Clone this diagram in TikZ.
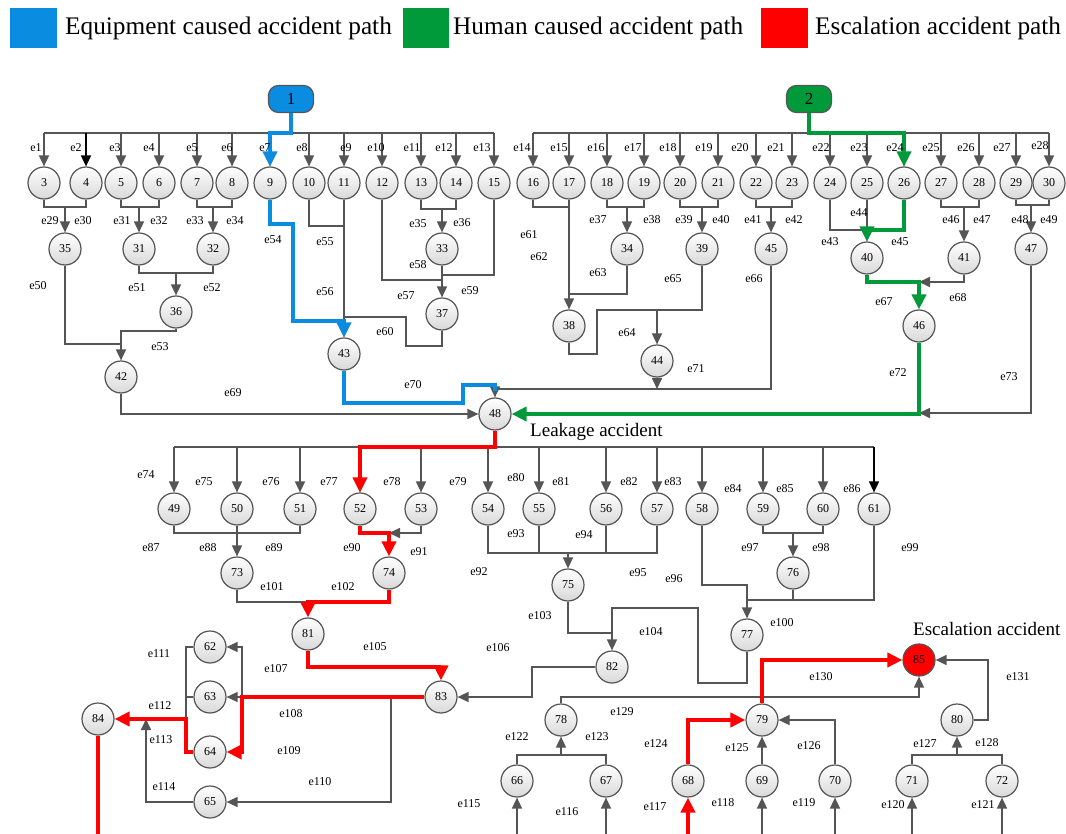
\documentclass[tikz,border=0pt]{standalone}
\usepackage{fontspec}
\setmainfont{Liberation Serif}
\usetikzlibrary{arrows.meta, calc}
\definecolor{lnk}{HTML}{555555}
\definecolor{pblue}{HTML}{0A8CE0}
\definecolor{pgreen}{HTML}{009A3A}
\definecolor{pred}{HTML}{FF0000}
% two events merging into one
\newcommand{\pairto}[4]{%
  \draw[ln] (#1.south) |- (#3.north |- 0,#4) -| (#2.south);
  \draw[ar] (#3.north |- 0,#4) -- (#3.north);}

\begin{document}
\begin{tikzpicture}[x=1pt, y=-1pt,
    ev/.style={circle, draw=lnk, line width=1.2pt, minimum size=32pt, inner sep=0pt,
      top color=white, bottom color=black!15, font=\fontsize{12}{12}\selectfont},
    lb/.style={inner sep=0pt, font=\fontsize{12}{12}\selectfont},
    ln/.style={draw=lnk, line width=1.6pt},
    ar/.style={ln, -{Triangle[length=11pt,width=10pt]}},
    ark/.style={draw=black, line width=1.6pt, -{Triangle[length=11pt,width=10pt]}},
    tip/.style={-{Triangle[length=15pt,width=14pt]}},
    bl/.style={draw=pblue, line width=4pt},
    gr/.style={draw=pgreen, line width=4pt},
    rd/.style={draw=pred, line width=4pt}]
  \useasboundingbox (0,0) rectangle (1066,834);

  % legend
  \node[fill=pblue, minimum width=47pt, minimum height=40pt, inner sep=0pt] (kb) at (33.5,28) {};
  \node[anchor=west, inner sep=0pt, font=\fontsize{25.3}{25}\selectfont] (tb) at (65,28) {Equipment caused accident path};
  \node[fill=pgreen, minimum width=46pt, minimum height=40pt, inner sep=0pt] (kg) at (426,28) {};
  \node[anchor=west, inner sep=0pt, font=\fontsize{25.3}{25}\selectfont] (tg) at (453,28) {Human caused accident path};
  \node[fill=pred, minimum width=47pt, minimum height=40pt, inner sep=0pt] (kr) at (784.5,28) {};
  \node[anchor=west, inner sep=0pt, font=\fontsize{25.3}{25}\selectfont] (tr) at (815,28) {Escalation accident path};

  % events
  \node[draw=lnk, line width=1.2pt, fill=pblue, rounded corners=10pt, minimum width=45pt,
        minimum height=27pt, font=\fontsize{17}{17}\selectfont] (n1) at (291,99) {1};
  \node[draw=lnk, line width=1.2pt, fill=pgreen, rounded corners=10pt, minimum width=45pt,
        minimum height=27pt, font=\fontsize{17}{17}\selectfont] (n2) at (809,99) {2};
  \foreach \n/\x in {3/44,4/86,5/121,6/159,7/197,8/232,9/270,10/309,11/344,12/382,13/421,
      14/456,15/494,16/533,17/569,18/607,19/644,20/680,21/718,22/756,23/792,24/830,25/867,
      26/904,27/941,28/979,29/1016,30/1049}
    \node[ev] (n\n) at (\x,183) {\n};
  \foreach \n/\x/\y in {35/65/249,31/139/249,32/213/249,36/176/312,42/121/377,33/442/249,
      37/442/314,43/344/354,38/569/326,34/627/249,39/702/249,44/657/361,45/771/249,
      40/867/258,41/964/258,46/919/326,47/1031/249,48/495/414,
      49/174/509,50/237/509,51/300/509,52/360/509,53/421/509,54/488/509,55/539/509,
      56/606/509,57/657/509,58/702/509,59/763/509,60/823/509,61/874/509,73/237/573,
      74/389/573,75/568/585,76/793/573,77/747/635,81/308/634,82/612/667,83/441/697,
      62/210/647,63/210/697,64/210/752,65/210/802,84/98/719,78/561/720,79/762/720,
      80/957/720,66/517/781,67/606/781,68/688/781,69/762/781,70/835/781,71/912/781,72/1002/781}
    \node[ev] (n\n) at (\x,\y) {\n};
  \node[ev, fill=pred, top color=pred, bottom color=pred] (n85) at (919,660) {85};
  \node[anchor=west, inner sep=0pt, font=\fontsize{19}{19}\selectfont] (leak) at (530,432) {Leakage accident};
  \node[anchor=west, inner sep=0pt, font=\fontsize{19}{19}\selectfont] (esc) at (913,629) {Escalation accident};

  % top connectors
  \draw[ln] (n1.south) -- (291,133);
  \draw[ln] (n3.north |- 0,133) -- (n15.north |- 0,133);
  \foreach \n in {3,5,6,7,8,9,10,11,12,13,14,15}
    \draw[ar] (n\n.north |- 0,133) -- (n\n.north);
  \draw[ark] (n4.north |- 0,133) -- (n4.north);
  \draw[ln] (n2.south) -- (809,133);
  \draw[ln] (n16.north |- 0,133) -- (n30.north |- 0,133);
  \foreach \n in {16,...,30}
    \draw[ar] (n\n.north |- 0,133) -- (n\n.north);

  \pairto{n3}{n4}{n35}{207}
  \pairto{n5}{n6}{n31}{207}
  \pairto{n7}{n8}{n32}{207}
  \pairto{n13}{n14}{n33}{209}
  \pairto{n18}{n19}{n34}{207}
  \pairto{n20}{n21}{n39}{207}
  \pairto{n22}{n23}{n45}{207}
  \pairto{n27}{n28}{n41}{207}
  \pairto{n29}{n30}{n47}{205}
  \pairto{n31}{n32}{n36}{273}

  \draw[ln] (n35.south) |- (n42.north |- 0,344);
  \draw[ar] (n36.south) |- (n42.north |- 0,331) -- (n42.north);
  \draw[ar] (n42.south) |- (n48.west);
  \draw[ln] (n10.south) |- (n11.south |- 0,226);
  \draw[ar] (n11.south) -- (n43.north);
  \draw[ln] (n12.south) |- (n37.north |- 0,280);
  \draw[ln] (n15.south) |- (n37.north |- 0,275);
  \draw[ar] (n33.south) -- (n37.north);
  \draw[ln] (n37.south) |- (406,346) |- (n43.north |- 0,317);
  \draw[ln] (n16.south) |- (n17.south |- 0,207);
  \draw[ar] (n17.south) -- (n38.north);
  \draw[ln] (n34.south) |- (n38.north |- 0,294);
  \draw[ar] (n38.south) |- (597,354) |- (n44.north |- 0,310) -- (n44.north);
  \draw[ln] (n39.south) |- (n44.north |- 0,310);
  \draw[ar] (n44.south) -- (n44.south |- 0,389);
  \draw[ar] (n45.south) |- (n48.north |- 0,389) -- (n48.north);
  \draw[ln] (n24.south) |- (n40.north |- 0,230);
  \draw[ar] (n25.south) -- (n40.north);
  \draw[ar] (n41.south) |- (n46.north |- 0,282);
  \draw[ar] (n47.south) |- (n46.south |- 0,413);

  % lower connectors
  \draw[ln] (n48.south) -- (495,447);
  \draw[ln] (n49.north |- 0,447) -- (n61.north |- 0,447);
  \foreach \n in {49,...,60}
    \draw[ar] (n\n.north |- 0,447) -- (n\n.north);
  \draw[ark] (n61.north |- 0,447) -- (n61.north);
  \draw[ln] (n49.south) |- (n51.south |- 0,533) -- (n51.south);
  \draw[ar] (n50.south) -- (n73.north);
  \draw[ar] (n53.south) |- (n74.north |- 0,533);
  \draw[ln] (n54.south) |- (n57.south |- 0,553) -- (n57.south);
  \draw[ln] (n55.south) -- (n55.south |- 0,553);
  \draw[ln] (n56.south) -- (n56.south |- 0,553);
  \draw[ar] (n75.north |- 0,553) -- (n75.north);
  \pairto{n59}{n60}{n76}{533}
  \draw[ar] (n58.south) |- (n77.north |- 0,585) -- (n77.north);
  \draw[ln] (n61.south) |- (n77.north |- 0,600);
  \draw[ln] (n76.south) -- (n76.south |- 0,600);
  \draw[ln] (n73.south) |- (n81.north |- 0,602);
  \draw[ln] (n75.south) |- (n82.north |- 0,633);
  \draw[ar] (n77.south) |- (698,683) |- (n82.north |- 0,608) -- (n82.north);
  \draw[ar] (n82.west) -| (532,697) -- (n83.east);
  \draw[ln] (n83.west) -- (242,697);
  \draw[ar] (242,697) |- (n62.east);
  \draw[ar] (242,697) -- (n63.east);
  \draw[ar] (391,697) |- (n65.east);
  \draw[ln] (n62.west) -| (186,719);
  \draw[ln] (n63.west) -- (n63.west -| 186,0);
  \draw[ar] (n65.west) -| (146,719);
  \foreach \n in {66,67,69,70,71,72}
    \draw[ar] (n\n.south |- 0,834) -- (n\n.south);
  \draw[ln] (n66.north) |- (n78.south |- 0,755) -| (n67.north);
  \draw[ar] (n78.south |- 0,755) -- (n78.south);
  \draw[ln] (n71.north) |- (n80.south |- 0,755) -| (n72.north);
  \draw[ar] (n80.south |- 0,755) -- (n80.south);
  \draw[ar] (n69.north) -- (n79.south);
  \draw[ar] (n70.north) |- (n79.east);
  \draw[ar] (n78.north) |- (n85.south |- 0,697) -- (n85.south);
  \draw[ar] (n80.east) -| (988,660) -- (n85.east);

  % accident paths
  \draw[bl, tip] (n1.south) |- (n9.north |- 0,133) -- (n9.north);
  \draw[bl, tip] (n9.south) |- (293,224) |- (n43.north |- 0,321) -- (n43.north);
  \draw[bl] (n43.south) |- (463,403) |- (n48.north |- 0,385) -- (495,391);
  \draw[gr, tip] (n2.south) |- (n26.north |- 0,133) -- (n26.north);
  \draw[gr, tip] (n26.south) |- (n40.north |- 0,230) -- (n40.north);
  \draw[gr, tip] (n40.south) |- (n46.north |- 0,282) -- (n46.north);
  \draw[gr, tip] (n46.south) |- (n48.east);
  \draw[rd, tip] (n48.south) |- (n52.north |- 0,447) -- (n52.north);
  \draw[rd, tip] (n52.south) |- (n74.north |- 0,533) -- (n74.north);
  \draw[rd, tip] (n74.south) |- (n81.north |- 0,602) -- (n81.north);
  \draw[rd, tip] (n81.south) |- (n83.north |- 0,667) -- (n83.north);
  \draw[rd, tip] (n83.west) -| (242,752) -- (n64.east);
  \draw[rd, tip] (n64.west) -| (186,719) -- (n84.east);
  \draw[rd] (n84.south) -- (n84.south |- 0,834);
  \draw[rd, tip] (n68.south |- 0,834) -- (n68.south);
  \draw[rd, tip] (n68.north) |- (n79.west);
  \draw[rd, tip] (n79.north) |- (n85.west);

  % edge labels
  \foreach \t/\x/\y in {1/36/148,2/76/148,3/115/148,4/149/148,5/192/148,6/227/148,7/265/148,
      8/302/148,9/346/148,10/376/148,11/412/148,12/444/148,13/482/148,14/522/148,15/559/148,
      16/596/148,17/633/148,18/668/148,19/704/148,20/740/148,21/776/148,22/821/148,
      23/859/148,24/895/148,25/931/148,26/966/148,27/1002/148,28/1040/146,
      29/50/221,30/83/221,31/122/221,32/159/221,33/195/221,34/235/221,35/418/224,36/462/223,
      37/598/220,38/652/220,39/684/220,40/721/220,41/753/220,42/794/220,43/830/242,
      44/859/213,45/900/242,46/951/220,47/982/220,48/1020/220,49/1049/220,
      50/38/286,51/137/288,52/212/288,53/160/347,54/273/240,55/325/242,56/325/292,
      57/406/296,58/418/265,59/470/291,60/385/332,61/529/235,62/539/257,63/598/273,
      64/627/333,65/673/279,66/754/279,67/884/302,68/958/298,69/233/393,70/413/385,
      71/696/369,72/898/373,73/1009/377,
      74/146/475,75/204/482,76/271/482,77/329/482,78/392/482,79/458/482,80/516/478,
      81/561/482,82/629/482,83/673/482,84/733/489,85/785/489,86/852/489,87/151/548,
      88/208/548,89/274/548,90/352/548,91/419/552,92/479/572,93/516/534,94/584/535,
      95/638/573,96/674/579,97/750/548,98/821/548,99/910/548,100/782/623,101/272/587,
      102/343/587,103/540/616,104/651/632,105/375/647,106/498/648,107/276/669,108/291/714,
      109/289/751,110/320/782,111/159/654,112/160/706,113/161/740,114/164/787,115/469/804,
      116/567/812,117/655/807,118/723/803,119/804/803,120/893/805,121/983/805,122/517/737,
      123/597/737,124/656/744,125/737/748,126/809/746,127/925/744,128/987/743,129/622/712,
      130/821/677,131/1018/677}
    \node[lb] (e\t) at (\x,\y) {e\t};
\end{tikzpicture}
\end{document}
